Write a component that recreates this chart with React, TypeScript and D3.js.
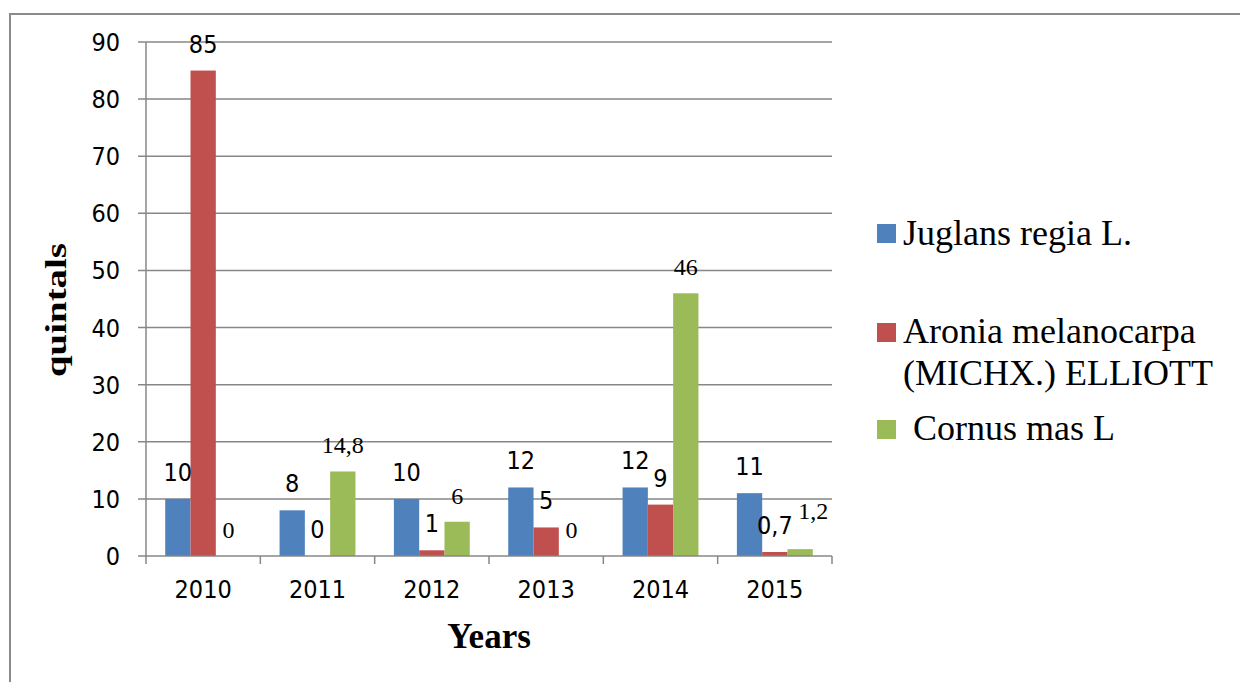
import React from "react";
import * as d3 from "d3";

const years = ["2010", "2011", "2012", "2013", "2014", "2015"];
const seriesNames = ["Juglans regia L.", "Aronia melanocarpa (MICHX.) ELLIOTT", "Cornus mas L"];
const juglans = [10, 8, 10, 12, 12, 11];
const aronia = [85, 0, 1, 5, 9, 0.7];
const cornus = [0, 14.8, 6, 0, 46, 1.2];
const yTicks = [0, 10, 20, 30, 40, 50, 60, 70, 80, 90];
const colors = ["#4F81BD", "#C0504D", "#9BBB59"];

const W = 1240;
const H = 682;
const SANS = "'Liberation Sans Narrow', 'DejaVu Sans Condensed', 'Liberation Sans', sans-serif";
const SERIF = "'Liberation Serif', 'Times New Roman', serif";

export default function App() {
  const allSeries = [juglans, aronia, cornus];
  const x = d3.scaleBand<string>().domain(years).range([146, 832]).paddingInner(0).paddingOuter(0);
  const xi = d3
    .scaleBand<number>()
    .domain([0, 1, 2])
    .range([0, x.bandwidth()])
    .paddingInner(0)
    .paddingOuter(0.76);
  const y = d3.scaleLinear().domain([0, 90]).range([556, 42]);
  const fmt = (v: number) => String(v).replace(".", ",");
  const gridColor = "#878787";

  // label positions with simple collision nudging
  const labels: { key: string; x: number; y: number; text: string; k: number }[] = [];
  years.forEach((yr, i) => {
    let prev: { x: number; y: number; w: number } | null = null;
    allSeries.forEach((s, k) => {
      const v = s[i];
      const text = fmt(v);
      let lx = (x(yr) as number) + (xi(k) as number) + xi.bandwidth() / 2;
      let ly = y(v) - 18;
      const w = text.length * 11;
      if (prev && Math.abs(prev.y - ly) < 16 && Math.abs(prev.x - lx) < (prev.w + w) / 2) {
        ly = prev.y - 15;
        lx = lx + 13;
      }
      labels.push({ key: yr + k, x: lx, y: ly, text, k });
      prev = { x: lx, y: ly, w };
    });
  });

  return (
    <svg
      width={W}
      height={H}
      style={{ position: "absolute", left: 0, top: 0, display: "block", background: "#fff" }}
    >
      <rect x={0} y={0} width={W} height={H} fill="#fff" />
      {/* outer frame */}
      <rect x={10} y={14} width={1260} height={720} fill="none" stroke="#8a8a8a" strokeWidth={2} />

      {/* gridlines and y ticks */}
      {yTicks.map((t) => (
        <g key={t}>
          <line x1={138} x2={t === 0 ? 146 : 832} y1={y(t)} y2={y(t)} stroke={gridColor} strokeWidth={1.5} />
          <text
            x={120}
            y={y(t)}
            dy="0.36em"
            textAnchor="end"
            fontFamily={SANS}
            fontSize={25}
            fill="#000"
          >
            {t}
          </text>
        </g>
      ))}

      {/* y axis */}
      <line x1={146} x2={146} y1={y(90)} y2={y(0)} stroke={gridColor} strokeWidth={1.5} />

      {/* bars */}
      {years.map((yr, i) => (
        <g key={yr}>
          {allSeries.map((s, k) => {
            const v = s[i];
            const bx = (x(yr) as number) + (xi(k) as number);
            return (
              <rect
                key={k}
                x={bx}
                y={y(v)}
                width={xi.bandwidth()}
                height={y(0) - y(v)}
                fill={colors[k]}
              />
            );
          })}
        </g>
      ))}

      {/* x axis */}
      <line x1={146} x2={832} y1={y(0)} y2={y(0)} stroke={gridColor} strokeWidth={1.5} />
      {years.map((yr) => (
        <line
          key={"t" + yr}
          x1={x(yr) as number}
          x2={x(yr) as number}
          y1={y(0)}
          y2={y(0) + 8}
          stroke={gridColor}
          strokeWidth={1.5}
        />
      ))}
      <line x1={832} x2={832} y1={y(0)} y2={y(0) + 8} stroke={gridColor} strokeWidth={1.5} />
      {years.map((yr) => (
        <text
          key={"l" + yr}
          x={(x(yr) as number) + x.bandwidth() / 2}
          y={598}
          textAnchor="middle"
          fontFamily={SANS}
          fontSize={25}
          fill="#000"
        >
          {yr}
        </text>
      ))}

      {/* data labels */}
      {labels.map((l) => (
        <text
          key={l.key}
          x={l.x}
          y={l.y}
          textAnchor="middle"
          fontFamily={l.k === 2 ? SERIF : SANS}
          fontSize={l.k === 2 ? 24 : 25}
          fill="#000"
        >
          {l.text}
        </text>
      ))}

      {/* axis titles */}
      <text
        x={489}
        y={648}
        textAnchor="middle"
        fontFamily={SERIF}
        fontWeight="bold"
        fontSize={35}
        fill="#000"
      >
        Years
      </text>
      <text
        transform={`translate(66,310) rotate(-90)`}
        textAnchor="middle"
        fontFamily={SERIF}
        fontWeight="bold"
        fontSize={30}
        textLength={134}
        lengthAdjust="spacingAndGlyphs"
        fill="#000"
      >
        quintals
      </text>

      {/* legend */}
      <g>
        <rect x={877} y={224} width={19} height={19} fill={colors[0]} />
        <text x={903} y={245} fontFamily={SERIF} fontSize={36} fill="#000">
          {seriesNames[0]}
        </text>
        <rect x={877} y={323} width={19} height={19} fill={colors[1]} />
        <text x={903} y={343} fontFamily={SERIF} fontSize={36} fill="#000">
          Aronia melanocarpa
        </text>
        <text x={903} y={385} fontFamily={SERIF} fontSize={36} fill="#000">
          (MICHX.) ELLIOTT
        </text>
        <rect x={877} y={420} width={19} height={19} fill={colors[2]} />
        <text x={913} y={440} fontFamily={SERIF} fontSize={36} fill="#000">
          {seriesNames[2]}
        </text>
      </g>
    </svg>
  );
}
